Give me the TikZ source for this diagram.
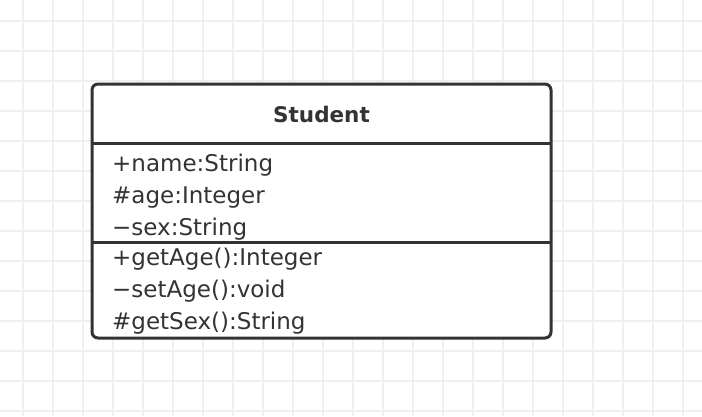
\documentclass[tikz,border=0pt]{standalone}
\usepackage{fontspec}
\setmainfont{DejaVu Sans}
\usepackage{tikz}
\usetikzlibrary{positioning}
\usepackage{xcolor}
\definecolor{gridgray}{HTML}{EFEFF1}
\definecolor{umlgray}{HTML}{333333}
\newcommand{\umlminus}{\char"2212}

\begin{document}
\begin{tikzpicture}[x=1pt,y=-1pt,
    gridline/.style={draw=gridgray,line width=1.5pt},
    classbox/.style={draw=umlgray,line width=3pt,rounded corners=6pt,fill=white},
    divider/.style={draw=umlgray,line width=3pt},
    member/.style={anchor=base west,inner sep=0pt,text=umlgray,font=\fontsize{23}{27}\selectfont},
    classname/.style={anchor=base,inner sep=0pt,text=umlgray,font=\bfseries\fontsize{21.5}{25}\selectfont}]
        \useasboundingbox[fill=white] (0,0) rectangle (702,416);
        \foreach \gx in {23,53,...,683} \draw[gridline] (\gx,0) -- (\gx,416);
        \foreach \gy in {21,51,...,411} \draw[gridline] (0,\gy) -- (702,\gy);
        \draw[classbox] (92,84) rectangle (551,338);
        \coordinate (sepAL) at (92,143);
        \coordinate (sepAR) at (551,143);
        \coordinate (sepBL) at (92,242);
        \coordinate (sepBR) at (551,242);
        \draw[divider] (sepAL) -- (sepAR);
        \draw[divider] (sepBL) -- (sepBR);
        \node[classname] (student) at (321.5,122) {Student};
        \node[member] (fname) at (112,171) {+name:String};
        \node[member] (fage) at (112,203) {\#age:Integer};
        \node[member] (fsex) at (112,235) {\umlminus sex:String};
        \node[member] (mgetage) at (112,265) {+getAge():Integer};
        \node[member] (msetage) at (112,297) {\umlminus setAge():void};
        \node[member] (mgetsex) at (112,329) {\#getSex():String};
    \end{tikzpicture}
\end{document}
